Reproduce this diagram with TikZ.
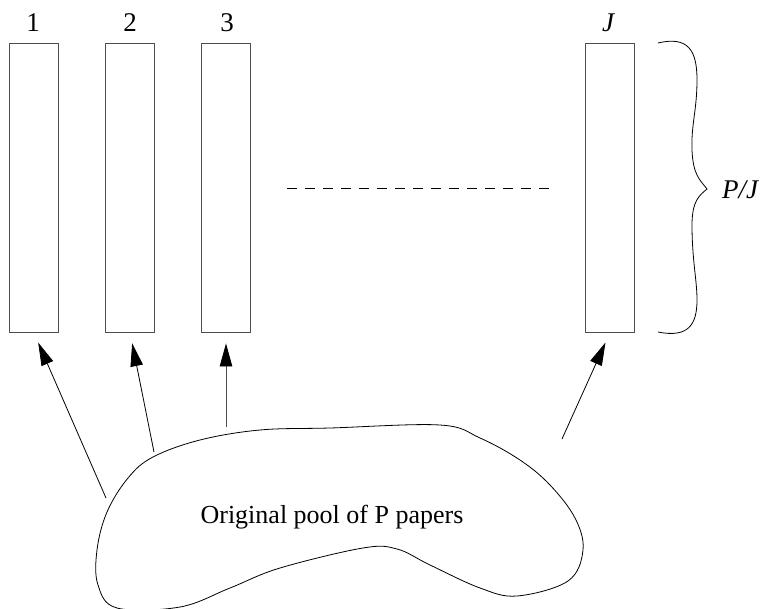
\documentclass[tikz,border=0pt]{standalone}
\usepackage{fontspec}
\setmainfont{Liberation Serif}
\usetikzlibrary{arrows.meta,calc}
\begin{document}
\begin{tikzpicture}[x=1pt,y=-1pt,
  binbox/.style={draw=black!70,line width=0.9pt,rectangle,inner sep=0pt,minimum width=48.5pt,minimum height=288.5pt},
  lab/.style={font=\fontsize{27}{30}\selectfont,inner sep=0pt},
  arr/.style={line width=0.8pt,-{Triangle[length=23pt,width=12.5pt,black]},shorten >=11pt},
  outline/.style={line width=0.8pt}]
\useasboundingbox (0,0) rectangle (762,609);
\node[binbox] (b1) at (33.75,187.75) {};
\node[binbox] (b2) at (130,187.75) {};
\node[binbox] (b3) at (226,187.75) {};
\node[binbox] (bJ) at (610,187.75) {};
\node[lab,anchor=base] (l1) at (33,32) {1};
\node[lab,anchor=base] (l2) at (130,32) {2};
\node[lab,anchor=base] (l3) at (227,32) {3};
\node[lab,anchor=base] (lJ) at (608,32) {\itshape J};
\coordinate (d1) at (287,188);
\coordinate (d2) at (551,188);
\draw[dashed,dash pattern=on 10pt off 8pt,line width=0.8pt] (d1) -- (d2);
\draw[outline] (658,43) .. controls (688,36) and (697,50) .. (697,80)
  .. controls (697,110) and (691,125) .. (692,150)
  .. controls (693,175) and (700,180) .. (707,189)
  .. controls (700,195) and (692,200) .. (692,225)
  .. controls (692,260) and (697,280) .. (697,300)
  .. controls (697,325) and (688,338) .. (658,332);
\node[lab,anchor=west] (pj) at (722,190) {\itshape P/J};
\draw[outline] plot[smooth cycle,tension=0.6] coordinates {
  (153,457) (200,440) (260,430) (330,428) (440,425) (480,438) (520,460) (550,485)
  (575,518) (583,550) (568,581) (517,596) (480,588) (430,565) (397,549)
  (363,548) (280,568) (230,588) (180,607) (117,608) (98,585) (97,550)
  (107,512) (128,478)};
\node[font=\fontsize{26}{30}\selectfont,inner sep=0pt] (pool) at (332,517) {Original pool of P papers};
\coordinate (s1) at (106,498);
\coordinate (s2) at (154,452);
\coordinate (s3) at (226,427);
\coordinate (sJ) at (562,439);
\draw[arr] (s1) -- (b1.south);
\draw[arr] (s2) -- (b2.south);
\draw[arr,draw=black!70] (s3) -- (b3.south);
\draw[arr] (sJ) -- (bJ.south);
\end{tikzpicture}
\end{document}
